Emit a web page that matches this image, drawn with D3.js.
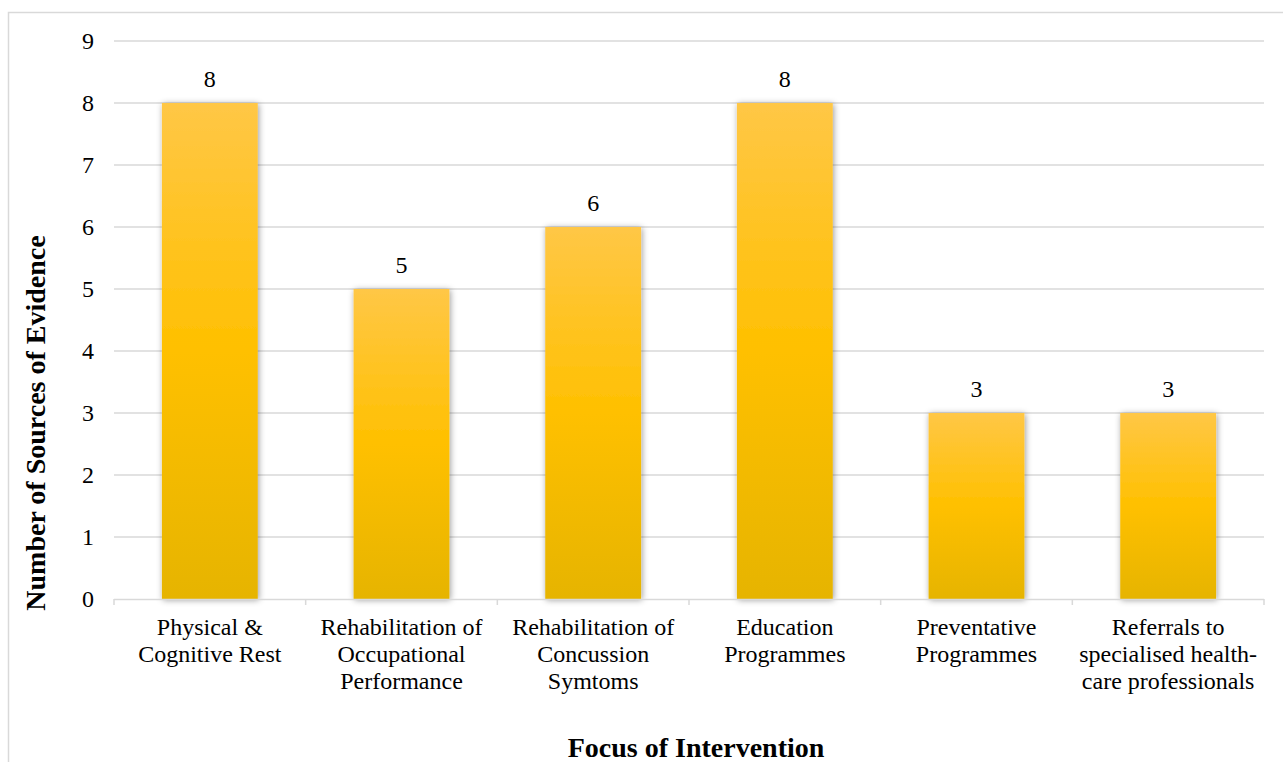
<!DOCTYPE html>
<html><head><meta charset="utf-8">
<script src="https://cdn.jsdelivr.net/npm/d3@7"></script>
<style>body{margin:0;background:#fff}svg{display:block}text{font-family:"Liberation Serif","Times New Roman",serif}</style>
</head><body>
<script>
const categories = [
  ["Physical &", "Cognitive Rest"],
  ["Rehabilitation of", "Occupational", "Performance"],
  ["Rehabilitation of", "Concussion", "Symtoms"],
  ["Education", "Programmes"],
  ["Preventative", "Programmes"],
  ["Referrals to", "specialised health-", "care professionals"]
];
const values = [8, 5, 6, 8, 3, 3];
const yTicks = [0,1,2,3,4,5,6,7,8,9];
const xTitle = "Focus of Intervention";
const yTitle = "Number of Sources of Evidence";

(function(){
const W = 1283, H = 762;
const svg = d3.select("body").append("svg").attr("width", W).attr("height", H);

const defs = svg.append("defs");
const grad = defs.append("linearGradient").attr("id","g").attr("x1",0).attr("y1",0).attr("x2",0).attr("y2",1);
grad.append("stop").attr("offset","0%").attr("stop-color","#FFC746");
grad.append("stop").attr("offset","50%").attr("stop-color","#FFC000");
grad.append("stop").attr("offset","100%").attr("stop-color","#E6B400");
const f = defs.append("filter").attr("id","sh").attr("x","-20%").attr("y","-10%").attr("width","140%").attr("height","120%");
f.append("feDropShadow").attr("dx",1).attr("dy",1).attr("stdDeviation",3).attr("flood-color","#000").attr("flood-opacity",0.4);

// outer border
svg.append("rect").attr("x",8.5).attr("y",12.5).attr("width",1290).attr("height",800)
  .attr("fill","none").attr("stroke","#d9d9d9").attr("stroke-width",1.5);

const pL = 114, pR = 1264, pT = 41, pB = 599;
const x = d3.scaleBand().domain(d3.range(values.length)).range([pL, pR]).paddingInner(0.5).paddingOuter(0.25);
const y = d3.scaleLinear().domain([0, 9]).range([pB, pT]);

// gridlines
svg.append("g").selectAll("line").data(yTicks.filter(d=>d>0)).join("line")
  .attr("x1", pL).attr("x2", pR).attr("y1", d=>y(d)).attr("y2", d=>y(d))
  .attr("stroke","#d9d9d9").attr("stroke-width",1.5);

// y tick labels
svg.append("g").selectAll("text").data(yTicks).join("text")
  .attr("x", 94).attr("y", d=>y(d)+8).attr("text-anchor","end")
  .attr("font-size", 24).attr("fill","#000").text(d=>d);

// bars
svg.append("g").selectAll("rect").data(values).join("rect")
  .attr("x",(d,i)=>x(i)).attr("width", x.bandwidth())
  .attr("y", d=>y(d)).attr("height", d=>y(0)-y(d))
  .attr("fill","url(#g)").attr("filter","url(#sh)");

// x axis line and ticks
const step = (pR-pL)/values.length;
svg.append("line").attr("x1",pL).attr("x2",pR).attr("y1",pB+0.5).attr("y2",pB+0.5)
  .attr("stroke","#d9d9d9").attr("stroke-width",1.5);
svg.append("g").selectAll("line").data(d3.range(values.length+1)).join("line")
  .attr("x1", i=>pL+i*step).attr("x2", i=>pL+i*step).attr("y1",pB).attr("y2",pB+6)
  .attr("stroke","#d9d9d9").attr("stroke-width",1.5);

// data labels
svg.append("g").selectAll("text").data(values).join("text")
  .attr("x",(d,i)=>x(i)+x.bandwidth()/2).attr("y", d=>y(d)-16)
  .attr("text-anchor","middle").attr("font-size",24).text(d=>d);

// category labels
const cl = svg.append("g").selectAll("text").data(categories).join("text")
  .attr("x",(d,i)=>x(i)+x.bandwidth()/2).attr("y", 635)
  .attr("text-anchor","middle").attr("font-size",24);
cl.selectAll("tspan").data(d=>d).join("tspan")
  .attr("x", function(){ return d3.select(this.parentNode).attr("x"); })
  .attr("dy",(d,i)=>i===0?0:27).text(d=>d);

// axis titles
svg.append("text").attr("x", 696).attr("y", 757).attr("text-anchor","middle")
  .attr("font-weight","bold").attr("font-size",28).text(xTitle);
svg.append("text").attr("transform",`translate(45,423) rotate(-90)`).attr("text-anchor","middle")
  .attr("font-weight","bold").attr("font-size",28).text(yTitle);
})();
</script>
</body></html>
